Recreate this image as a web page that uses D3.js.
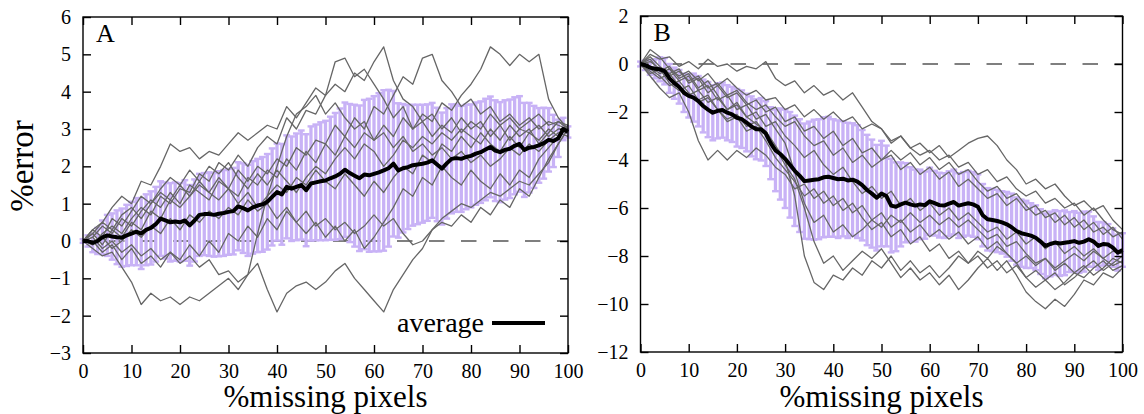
<!DOCTYPE html>
<html><head><meta charset="utf-8">
<script src="https://cdn.jsdelivr.net/npm/d3@7"></script>
<style>
html,body{margin:0;padding:0;background:#fff;}
svg{display:block;}
text{font-family:"Liberation Serif","Times New Roman",serif;fill:#000;}
</style></head>
<body>
<svg id="chart" width="1144" height="414"></svg>
<script>
// ---------------- DATA ----------------
// x positions (% missing pixels)
const xFine = d3.range(0, 101, 1);     // error bars + average
const xCoarse = d3.range(0, 101, 2);   // individual runs

const xTicks = [0,10,20,30,40,50,60,70,80,90,100];
const yTicksA = [-3,-2,-1,0,1,2,3,4,5,6];
const yTicksB = [-12,-10,-8,-6,-4,-2,0,2];

// Panel A: average %error
const meanA = [0,0,-0.05,0,0.1,0.15,0.12,0.1,0.09,0.15,0.2,0.25,0.2,0.3,0.35,0.45,0.6,0.55,0.5,0.52,
0.5,0.55,0.42,0.55,0.7,0.72,0.72,0.7,0.73,0.75,0.78,0.8,0.93,0.88,0.82,0.9,0.95,0.98,1.05,1.18,
1.31,1.25,1.45,1.4,1.45,1.5,1.36,1.54,1.57,1.6,1.62,1.68,1.73,1.8,1.91,1.82,1.75,1.68,1.78,1.76,
1.8,1.84,1.89,1.95,2.07,1.89,1.95,1.98,2.03,2.05,2.07,2.1,2.16,2.05,1.94,2.08,2.2,2.22,2.2,2.25,
2.28,2.34,2.38,2.45,2.52,2.42,2.38,2.44,2.47,2.55,2.6,2.44,2.5,2.52,2.56,2.62,2.71,2.68,2.75,3.0,2.92];
// Panel A: standard deviation
const stdA = [0.05,0.15,0.25,0.35,0.45,0.55,0.62,0.72,0.78,0.82,0.85,0.9,0.95,0.95,0.98,1.0,1.0,1.02,1.05,1.05,
1.05,1.08,1.08,1.1,1.1,1.1,1.12,1.12,1.14,1.15,1.15,1.16,1.18,1.2,1.22,1.24,1.25,1.27,1.28,1.3,
1.3,1.35,1.38,1.4,1.43,1.46,1.5,1.53,1.55,1.58,1.6,1.65,1.7,1.75,1.8,1.85,1.9,1.95,2.0,2.05,
2.08,2.12,2.15,2.1,1.95,1.8,1.72,1.66,1.62,1.6,1.58,1.56,1.54,1.52,1.5,1.48,1.46,1.44,1.42,1.4,
1.38,1.37,1.36,1.36,1.35,1.35,1.34,1.33,1.32,1.3,1.28,1.26,1.2,1.1,1.0,0.95,0.85,0.7,0.5,0.3,0.15];

// Panel A: individual runs (x = 0,2,...,100)
const runsA = [
[0,0.3,0.5,0.9,1.2,1.0,1.6,1.5,2.0,2.6,2.4,2.5,2.2,2.4,2.3,2.6,2.9,2.7,2.9,3.1,3.0,3.6,3.3,3.7,4.1,3.9,4.8,4.9,4.4,4.6,4.2,3.8,3.3,3.6,3.0,3.2,2.8,3.1,2.9,3.3,3.0,3.2,2.8,3.1,2.7,3.0,2.9,3.1,2.8,3.0,3.0],
[0,-0.1,0.2,0.4,0.2,0.6,0.9,0.7,1.2,1.0,1.4,1.3,1.8,1.6,2.1,1.9,2.3,2.0,2.5,2.8,2.6,3.3,3.0,3.5,3.4,3.9,4.2,4.0,4.5,4.3,4.8,5.2,4.3,3.8,3.6,3.2,3.4,3.0,3.3,2.9,3.2,3.0,3.4,3.1,3.3,3.0,3.2,3.4,3.1,3.2,3.1],
[0,0.2,-0.1,0.3,0.1,0.5,0.3,0.8,0.6,1.1,0.9,1.2,1.5,1.3,1.7,1.4,1.9,1.6,2.0,1.8,2.2,2.0,2.5,2.3,2.7,2.6,3.1,2.8,3.3,3.0,3.6,3.4,3.9,4.4,4.2,4.9,5.0,4.3,4.0,3.6,3.8,3.4,3.6,3.2,3.4,3.1,3.3,3.0,3.2,3.1,3.0],
[0,0.1,0.4,0.2,0.6,0.4,0.8,1.1,0.9,1.3,1.0,1.5,1.3,1.1,1.6,1.4,1.2,1.7,1.5,1.9,1.7,2.2,1.9,2.4,2.1,2.6,2.3,2.8,2.5,2.9,2.7,3.1,2.8,3.3,3.0,3.4,3.2,3.7,3.5,3.9,4.2,4.6,5.2,5.0,4.7,5.0,4.8,5.0,3.8,3.3,3.0],
[0,-0.2,-0.4,-0.3,-0.7,-1.1,-1.7,-1.4,-1.6,-1.5,-1.7,-1.5,-1.6,-1.4,-1.2,-1.0,-1.3,-0.9,-0.6,-1.3,-1.9,-1.4,-1.2,-1.1,-1.3,-1.1,-0.8,-0.6,-1.0,-1.3,-1.6,-1.9,-1.3,-0.9,-0.5,-0.2,0.3,0.6,0.8,1.0,0.9,1.1,1.3,1.2,1.4,1.6,1.5,1.8,2.1,2.6,3.0],
[0,0.1,-0.2,0.0,-0.3,-0.1,-0.4,-0.2,-0.5,-0.3,-0.6,-0.4,-0.7,-0.5,-0.9,-0.8,-1.1,-0.9,0.2,1.2,2.0,2.8,3.4,3.6,3.9,3.4,3.7,3.3,3.0,3.2,2.7,2.9,2.5,2.8,2.4,2.6,2.3,2.5,2.2,2.4,2.1,2.3,2.0,2.2,2.5,2.3,2.6,2.4,2.7,2.9,2.8],
[0,-0.1,0.1,-0.2,0.0,0.3,0.1,0.4,0.2,0.6,0.3,0.7,0.5,0.8,0.6,0.9,0.7,1.1,0.8,1.0,0.6,0.9,0.5,0.8,0.4,0.6,0.3,0.5,0.2,0.4,0.7,0.4,0.6,0.2,-0.1,0.0,0.3,0.5,0.4,0.7,0.5,0.9,0.7,1.1,0.9,1.4,1.2,1.7,2.2,2.6,3.0],
[0,0.2,0.5,0.3,0.7,0.9,0.6,1.0,1.3,1.1,1.5,1.2,1.6,1.3,1.1,1.4,1.0,1.3,0.9,1.2,1.5,1.3,1.7,1.5,1.9,1.6,1.4,1.8,1.5,1.2,1.6,1.3,1.7,2.0,1.8,2.3,2.1,2.6,2.4,2.8,2.5,2.9,2.6,2.4,2.8,2.5,2.9,2.7,3.0,2.8,3.0],
[0,0.0,-0.3,-0.1,-0.5,-0.2,-0.6,-0.4,-0.7,-0.3,-0.5,-0.1,-0.4,0.0,-0.3,0.2,0.0,0.4,0.1,0.6,0.3,0.8,0.5,0.2,0.5,0.1,0.4,0.0,0.3,-0.2,0.1,0.5,0.9,1.4,1.2,1.7,1.5,2.0,1.7,1.5,1.9,1.6,1.4,1.8,1.5,1.9,1.7,2.2,2.5,2.8,3.1],
[0,0.3,0.1,0.6,0.4,0.8,1.2,1.0,1.4,1.7,1.5,1.9,1.6,2.0,1.8,2.1,1.7,1.4,1.8,1.5,1.9,1.6,1.3,1.7,2.0,1.8,2.2,2.5,2.2,2.6,2.4,2.0,2.3,2.7,2.5,2.8,2.6,2.9,2.7,3.0,2.8,2.6,3.0,2.7,3.1,2.8,3.0,2.6,2.9,3.2,3.0]
];

// Panel B: average %error
const meanB = [0,-0.05,-0.15,-0.2,-0.22,-0.3,-0.6,-0.8,-0.95,-1.2,-1.33,-1.4,-1.55,-1.75,-1.9,-2.03,-1.95,-1.92,-2.03,-2.1,
-2.24,-2.3,-2.44,-2.6,-2.72,-2.72,-2.9,-3.3,-3.6,-3.75,-3.95,-4.2,-4.45,-4.65,-4.88,-4.85,-4.82,-4.8,-4.72,-4.7,
-4.75,-4.8,-4.78,-4.85,-4.82,-4.9,-5.05,-5.25,-5.4,-5.57,-5.4,-5.5,-5.9,-5.95,-5.85,-5.78,-5.85,-5.9,-5.85,-5.88,
-5.72,-5.8,-5.88,-5.9,-5.82,-5.75,-5.9,-5.85,-5.8,-5.85,-5.95,-6.3,-6.47,-6.5,-6.54,-6.6,-6.68,-6.8,-6.96,-7.05,
-7.1,-7.15,-7.24,-7.4,-7.58,-7.5,-7.44,-7.48,-7.45,-7.42,-7.38,-7.45,-7.4,-7.3,-7.4,-7.58,-7.5,-7.52,-7.65,-7.86,-7.75];
// Panel B: standard deviation
const stdB = [0.1,0.2,0.3,0.4,0.5,0.55,0.6,0.65,0.7,0.8,0.9,1.0,1.05,1.1,1.15,1.15,1.15,1.15,1.15,1.15,
1.2,1.2,1.2,1.25,1.25,1.3,1.35,1.5,1.7,1.9,2.05,2.2,2.3,2.35,2.4,2.45,2.5,2.5,2.5,2.5,
2.45,2.45,2.4,2.4,2.35,2.35,2.3,2.3,2.25,2.2,2.2,2.1,1.95,1.85,1.75,1.65,1.55,1.5,1.45,1.4,
1.4,1.35,1.35,1.35,1.35,1.35,1.35,1.35,1.35,1.35,1.35,1.3,1.3,1.3,1.3,1.3,1.35,1.4,1.4,1.4,
1.4,1.35,1.35,1.35,1.35,1.35,1.35,1.35,1.35,1.25,1.25,1.25,1.25,1.15,1.05,1.0,0.9,0.85,0.8,0.75,0.7];

// Panel B: individual runs (x = 0,2,...,100)
const runsB = [
[0,0.4,0.2,0.3,-0.1,0.1,-0.2,0.2,-0.1,0.0,-0.3,-0.1,-0.2,0.1,-0.6,-0.9,-0.7,-1.2,-0.9,-1.3,-1.1,-1.5,-1.2,-1.8,-2.4,-2.7,-3.3,-3.0,-3.5,-3.3,-3.7,-3.4,-3.9,-3.6,-3.3,-3.1,-3.0,-3.4,-4.0,-4.4,-5.0,-4.8,-5.2,-5.0,-5.5,-5.9,-5.7,-6.1,-5.9,-6.5,-6.9],
[0,0.6,0.3,-0.2,-0.5,-0.3,-0.7,-0.4,-0.9,-0.6,-1.0,-1.3,-1.1,-1.5,-1.4,-1.9,-1.7,-2.2,-1.9,-2.3,-2.0,-2.4,-2.2,-2.7,-2.5,-2.7,-3.2,-3.0,-3.5,-3.8,-3.6,-4.0,-3.8,-4.3,-4.1,-4.6,-4.4,-4.9,-4.7,-5.2,-5.5,-5.3,-5.8,-5.6,-6.0,-5.8,-6.3,-6.0,-6.5,-6.9,-7.1],
[0,0.3,-0.1,-0.4,-0.2,-0.8,-0.6,-1.2,-0.9,-1.4,-1.2,-1.7,-1.5,-2.0,-1.8,-2.4,-2.2,-2.8,-2.6,-3.1,-2.8,-3.4,-3.1,-3.7,-3.5,-4.0,-3.8,-4.4,-4.1,-4.6,-4.3,-4.8,-4.5,-5.1,-4.8,-5.2,-5.6,-5.4,-5.9,-5.6,-6.1,-5.9,-6.4,-6.2,-6.7,-6.4,-6.9,-6.6,-7.1,-6.8,-7.3],
[0,-0.3,-0.6,-0.4,-0.9,-1.3,-1.1,-1.6,-1.4,-1.9,-1.7,-2.2,-2.5,-2.8,-3.4,-4.0,-5.5,-8.0,-9.1,-9.4,-8.8,-9.0,-8.5,-8.8,-8.2,-8.5,-8.0,-8.6,-8.2,-8.7,-8.4,-8.9,-8.5,-8.0,-8.3,-7.8,-8.1,-7.6,-7.9,-8.3,-8.0,-8.4,-8.1,-8.5,-8.2,-7.9,-8.2,-7.8,-8.1,-8.4,-8.2],
[0,-0.2,-0.5,-0.9,-0.7,-1.2,-1.6,-1.4,-1.9,-2.3,-2.1,-2.6,-2.4,-2.9,-3.5,-4.2,-4.8,-6.0,-7.4,-8.3,-8.0,-8.6,-8.2,-7.8,-8.1,-7.7,-8.3,-8.9,-8.5,-9.0,-8.7,-9.2,-8.8,-9.4,-9.0,-8.5,-8.1,-8.6,-8.2,-8.8,-9.5,-9.9,-10.2,-9.8,-10.1,-9.6,-9.0,-9.2,-8.7,-8.9,-8.5],
[0,-0.5,-1.0,-1.4,-1.2,-2.0,-3.2,-4.0,-3.6,-4.0,-3.6,-3.9,-3.5,-3.8,-4.3,-4.6,-5.2,-5.0,-5.6,-5.3,-5.9,-5.6,-6.2,-5.9,-6.5,-6.2,-6.8,-6.5,-7.0,-6.7,-7.2,-6.9,-7.3,-7.0,-7.5,-7.2,-7.7,-7.4,-7.9,-8.3,-8.9,-9.3,-9.0,-9.4,-9.1,-8.7,-8.9,-8.5,-8.2,-8.6,-8.4],
[0,0.2,-0.3,-0.1,-0.6,-0.4,-1.0,-0.7,-1.3,-1.9,-1.6,-2.2,-2.0,-2.6,-2.4,-3.0,-3.4,-3.9,-3.6,-4.2,-4.6,-4.3,-4.9,-5.4,-5.1,-5.6,-5.3,-5.9,-5.6,-6.1,-5.8,-6.3,-6.0,-6.5,-6.2,-6.6,-7.0,-6.8,-7.3,-7.0,-7.5,-7.2,-7.7,-7.4,-7.9,-7.6,-8.0,-7.7,-8.1,-7.8,-7.9],
[0,0.1,-0.2,-0.5,-0.3,-0.7,-0.5,-1.0,-0.8,-1.3,-1.1,-1.6,-1.9,-1.7,-2.2,-2.6,-2.4,-3.0,-3.4,-3.2,-3.8,-3.5,-4.1,-3.8,-4.3,-4.0,-3.6,-4.0,-3.7,-4.2,-3.9,-4.4,-4.1,-4.6,-4.4,-4.9,-5.3,-5.1,-5.6,-5.4,-5.9,-6.3,-6.1,-6.6,-6.3,-6.8,-6.5,-7.0,-6.8,-7.2,-7.0],
[0,-0.1,-0.4,-0.2,-0.7,-0.5,-1.1,-0.9,-1.5,-1.3,-1.9,-1.7,-2.3,-2.1,-2.7,-3.3,-4.5,-5.8,-6.6,-6.3,-7.0,-6.7,-7.2,-6.9,-6.5,-6.8,-6.3,-6.6,-6.2,-6.6,-6.3,-6.7,-6.4,-6.8,-6.5,-6.9,-7.3,-7.1,-7.6,-7.4,-7.9,-8.3,-8.1,-8.6,-8.3,-8.7,-8.4,-8.8,-8.5,-8.1,-8.3],
[0,-0.4,-0.2,-0.8,-1.1,-0.9,-1.5,-1.3,-1.9,-2.4,-2.2,-2.8,-2.6,-3.2,-3.9,-4.4,-4.9,-5.5,-5.2,-5.8,-5.5,-6.1,-5.8,-6.4,-6.9,-6.6,-7.2,-6.9,-7.5,-7.2,-7.8,-7.5,-8.1,-7.8,-8.3,-8.0,-8.5,-8.2,-8.7,-8.4,-8.9,-8.6,-9.0,-8.7,-9.2,-8.9,-8.5,-8.2,-8.6,-8.3,-8.0]
];

const panelLabels = ["A","B"];
const xTitle = "%missing pixels";
const yTitle = "%error";
const legendLabel = "average";

// ---------------- DRAW ----------------
const svg = d3.select("#chart");
const BAR = "#c8b2f6";
const RUN = "#666666";
const FONT = "'Liberation Serif','Times New Roman',serif";

function panel(cfg){
  const x = d3.scaleLinear().domain([0,100]).range([cfg.x0, cfg.x1]);
  const y = d3.scaleLinear().domain(cfg.yDom).range([cfg.y1, cfg.y0]);
  const g = svg.append("g");

  // zero reference line
  g.append("line")
    .attr("x1", x(0)).attr("x2", x(100)).attr("y1", y(0)).attr("y2", y(0))
    .attr("stroke","#000").attr("stroke-width",1.2)
    .attr("stroke-dasharray","15.5,16.5").attr("stroke-dashoffset", cfg.dashOff);

  // error bars (mean ± std)
  const eb = g.append("g");
  xFine.forEach((xv,i)=>{
    const lo = cfg.mean[i]-cfg.std[i], hi = cfg.mean[i]+cfg.std[i];
    eb.append("line").attr("x1",x(xv)).attr("x2",x(xv)).attr("y1",y(lo)).attr("y2",y(hi))
      .attr("stroke",BAR).attr("stroke-width",3.3);
    [lo,hi].forEach(v=>{
      eb.append("line").attr("x1",x(xv)-3.4).attr("x2",x(xv)+3.4).attr("y1",y(v)).attr("y2",y(v))
        .attr("stroke",BAR).attr("stroke-width",2.4);
    });
  });

  // runs
  const lineRun = d3.line().x((d,i)=>x(xCoarse[i])).y(d=>y(d));
  cfg.runs.forEach(r=>{
    g.append("path").attr("d",lineRun(r)).attr("fill","none")
      .attr("stroke",RUN).attr("stroke-width",1.3).attr("stroke-linejoin","round");
  });

  // average
  const lineAvg = d3.line().x((d,i)=>x(xFine[i])).y(d=>y(d));
  g.append("path").attr("d",lineAvg(cfg.mean)).attr("fill","none")
    .attr("stroke","#000").attr("stroke-width",4).attr("stroke-linejoin","round");

  // frame
  g.append("rect").attr("x",cfg.x0).attr("y",cfg.y0)
    .attr("width",cfg.x1-cfg.x0).attr("height",cfg.y1-cfg.y0)
    .attr("fill","none").attr("stroke","#000").attr("stroke-width",1.4);

  // axes with inward ticks
  const ax = g.append("g").attr("transform",`translate(0,${cfg.y1})`)
    .call(d3.axisBottom(x).tickValues(xTicks).tickSize(-8).tickPadding(11));
  const axT = g.append("g").attr("transform",`translate(0,${cfg.y0})`)
    .call(d3.axisTop(x).tickValues(xTicks).tickSize(-8).tickFormat(""));
  const ay = g.append("g").attr("transform",`translate(${cfg.x0},0)`)
    .call(d3.axisLeft(y).tickValues(cfg.yTicks).tickSize(-8).tickPadding(12));
  const ayR = g.append("g").attr("transform",`translate(${cfg.x1},0)`)
    .call(d3.axisRight(y).tickValues(cfg.yTicks).tickSize(-8).tickFormat(""));
  [ax,axT,ay,ayR].forEach(a=>{
    a.attr("font-family",FONT).attr("font-size",20);
    a.select(".domain").remove();
    a.selectAll(".tick line").attr("stroke","#000").attr("stroke-width",1.4);
    a.selectAll("text").style("font-size","20px").attr("fill","#000");
  });

  // panel letter
  g.append("text").attr("x",cfg.x0+13).attr("y",cfg.y0+25).style("font-size","26px").text(cfg.label);

  // x title
  g.append("text").attr("x",(cfg.x0+cfg.x1)/2).attr("y",407).attr("text-anchor","middle")
    .style("font-size","31px").text(xTitle);
  return {x,y};
}

panel({x0:83,x1:568,y0:17,y1:353,yDom:[-3,6],yTicks:yTicksA,mean:meanA,std:stdA,runs:runsA,label:panelLabels[0],dashOff:-26});
panel({x0:640.5,x1:1122.5,y0:16,y1:352,yDom:[-12,2],yTicks:yTicksB,mean:meanB,std:stdB,runs:runsB,label:panelLabels[1],dashOff:-26});

// y title
svg.append("text").attr("transform","translate(33,166) rotate(-90)").attr("text-anchor","middle")
  .style("font-size","33px").text(yTitle);

// legend
svg.append("text").attr("x",484).attr("y",332).attr("text-anchor","end").style("font-size","28px").text(legendLabel);
svg.append("line").attr("x1",492).attr("x2",545).attr("y1",323).attr("y2",323)
  .attr("stroke","#000").attr("stroke-width",4);
</script>
</body></html>
